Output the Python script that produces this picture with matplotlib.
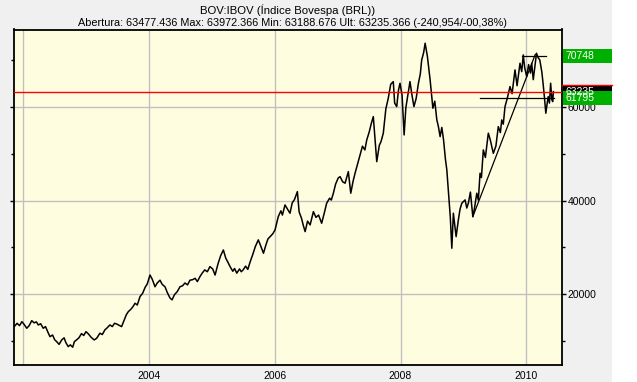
import pandas as pd
import matplotlib
matplotlib.use("Agg")
import matplotlib.pyplot as plt
from matplotlib.patches import Rectangle
from matplotlib.transforms import blended_transform_factory

plt.rcParams['font.family'] = ['Liberation Sans', 'DejaVu Sans']

# Ibovespa closes (roughly two points per month)
dates = [
    "2001-11-12", "2001-11-26", "2001-12-10", "2001-12-24", "2002-01-07", "2002-01-21",
    "2002-02-04", "2002-02-19", "2002-03-05", "2002-03-18", "2002-03-29", "2002-04-12",
    "2002-04-27", "2002-05-10", "2002-05-24", "2002-06-05", "2002-06-20", "2002-07-02",
    "2002-07-14", "2002-07-28", "2002-08-12", "2002-08-26", "2002-09-05", "2002-09-19",
    "2002-10-01", "2002-10-15", "2002-10-25", "2002-11-06", "2002-11-20", "2002-12-05",
    "2002-12-18", "2002-12-31", "2003-01-15", "2003-01-30", "2003-02-17", "2003-03-03",
    "2003-03-22", "2003-04-05", "2003-04-20", "2003-05-05", "2003-05-19", "2003-06-02",
    "2003-06-15", "2003-06-27", "2003-07-10", "2003-07-26", "2003-08-10", "2003-08-22",
    "2003-09-03", "2003-09-18", "2003-10-01", "2003-10-12", "2003-10-25", "2003-11-10",
    "2003-11-25", "2003-12-10", "2003-12-22", "2004-01-07", "2004-01-20", "2004-02-05",
    "2004-02-18", "2004-03-05", "2004-03-18", "2004-04-03", "2004-04-16", "2004-05-02",
    "2004-05-14", "2004-05-28", "2004-06-14", "2004-06-29", "2004-07-14", "2004-07-28",
    "2004-08-12", "2004-08-26", "2004-09-10", "2004-09-25", "2004-10-08", "2004-10-23",
    "2004-11-05", "2004-11-20", "2004-12-05", "2004-12-20", "2005-01-05", "2005-01-19",
    "2005-02-05", "2005-02-20", "2005-03-08", "2005-03-22", "2005-04-04", "2005-04-16",
    "2005-05-02", "2005-05-12", "2005-05-25", "2005-06-10", "2005-06-20", "2005-07-01",
    "2005-07-15", "2005-07-28", "2005-08-11", "2005-08-25", "2005-09-10", "2005-09-27",
    "2005-10-10", "2005-10-27", "2005-11-10", "2005-11-22", "2005-12-05", "2005-12-20",
    "2006-01-02", "2006-01-21", "2006-02-05", "2006-02-14", "2006-03-01", "2006-03-15",
    "2006-03-30", "2006-04-12", "2006-04-25", "2006-05-12", "2006-05-22", "2006-06-05",
    "2006-06-16", "2006-06-26", "2006-07-10", "2006-07-25", "2006-08-13", "2006-08-28",
    "2006-09-12", "2006-09-30", "2006-10-15", "2006-10-29", "2006-11-15", "2006-11-25",
    "2006-12-07", "2006-12-20", "2007-01-04", "2007-01-15", "2007-01-30", "2007-02-13",
    "2007-03-04", "2007-03-18", "2007-04-01", "2007-04-12", "2007-04-25", "2007-05-11",
    "2007-05-25", "2007-06-08", "2007-06-19", "2007-07-03", "2007-07-15", "2007-07-27",
    "2007-08-06", "2007-08-16", "2007-08-31", "2007-09-10", "2007-09-23", "2007-10-08",
    "2007-10-22", "2007-11-05", "2007-11-20", "2007-11-28", "2007-12-10", "2007-12-20",
    "2007-12-29", "2008-01-10", "2008-01-22", "2008-02-01", "2008-02-12", "2008-02-25",
    "2008-03-08", "2008-03-19", "2008-04-01", "2008-04-14", "2008-04-25", "2008-05-03",
    "2008-05-14", "2008-05-23", "2008-06-05", "2008-06-21", "2008-07-07", "2008-07-18",
    "2008-07-30", "2008-08-08", "2008-08-18", "2008-08-28", "2008-09-07", "2008-09-18",
    "2008-09-26", "2008-10-06", "2008-10-16", "2008-10-25", "2008-11-03", "2008-11-12",
    "2008-11-19", "2008-12-02", "2008-12-12", "2008-12-22", "2009-01-10", "2009-01-20",
    "2009-01-29", "2009-02-10", "2009-02-24", "2009-03-05", "2009-03-19", "2009-03-28",
    "2009-04-07", "2009-04-15", "2009-04-26", "2009-05-08", "2009-05-25", "2009-06-05",
    "2009-06-23", "2009-07-08", "2009-07-22", "2009-08-03", "2009-08-11", "2009-08-20",
    "2009-08-30", "2009-09-12", "2009-09-28", "2009-10-10", "2009-10-27", "2009-11-08",
    "2009-11-25", "2009-12-05", "2009-12-14", "2009-12-22", "2010-01-03", "2010-01-14",
    "2010-01-25", "2010-02-01", "2010-02-10", "2010-02-20", "2010-03-01", "2010-03-10",
    "2010-03-20", "2010-04-01", "2010-04-08", "2010-04-16", "2010-04-24", "2010-05-01",
    "2010-05-08", "2010-05-15", "2010-05-22", "2010-05-29", "2010-06-03", "2010-06-07",
]
ibov = [
    13200, 13800, 13300, 14150, 13500, 12740,
    13300, 14360, 13900, 14100, 13450, 13700,
    12740, 13100, 11900, 10950, 11300, 10300,
    9880, 9300, 10250, 10700, 9700, 8820,
    9200, 8700, 9900, 10250, 10700, 11600,
    11200, 12020, 11500, 10800, 10250, 10600,
    11680, 11400, 12400, 12900, 13450, 13100,
    13800, 13660, 13400, 13090, 14500, 15600,
    16290, 16800, 17400, 18080, 17700, 19500,
    20200, 21500, 22200, 24100, 23200, 21600,
    22400, 23000, 22100, 21600, 20400, 19200,
    18800, 19900, 20600, 21600, 21800, 22400,
    22000, 23000, 23100, 23400, 22700, 23760,
    24500, 25200, 24800, 25900, 25400, 24100,
    26500, 28200, 29450, 27700, 26800, 25900,
    24900, 25500, 24500, 25400, 24800, 25200,
    26000, 25300, 26950, 28400, 30200, 31600,
    30400, 28750, 30500, 31800, 32300, 32900,
    33700, 36560, 37800, 36900, 39060, 38200,
    37290, 39500, 40200, 41900, 37600, 36200,
    34600, 33370, 35600, 34800, 37630, 36400,
    36900, 35150, 37300, 39420, 40500, 40100,
    41560, 43500, 44800, 45100, 44000, 43700,
    46170, 41560, 44200, 45830, 47600, 49730,
    51600, 50800, 52940, 54600, 56400, 57910,
    53200, 48300, 51800, 52600, 54370, 59600,
    61840, 64800, 65380, 60800, 60050, 63500,
    65030, 62500, 54000, 59800, 62300, 65380,
    62400, 60050, 61800, 65030, 67000, 70000,
    71500, 73570, 70800, 65740, 59700, 61200,
    57200, 55800, 53640, 55600, 52940, 48800,
    46530, 41560, 36560, 29820, 37290, 34500,
    32300, 35860, 38200, 39420, 40130, 38400,
    39420, 41800, 36560, 38200, 41560, 40100,
    45830, 44900, 50800, 49200, 54370, 53000,
    50080, 51600, 55770, 54500, 57200, 56300,
    60050, 61800, 64320, 62800, 67880, 64500,
    69300, 67500, 71080, 68400, 66450, 69000,
    67200, 69300, 65800, 68800, 71430, 70500,
    70010, 67400, 65030, 62000, 58630, 60500,
    62180, 60800, 65030, 61500, 61110, 63235,
]

# drawn study lines
trend_dates = ["2009-02-24", "2010-02-22"]
trend_values = [36560, 71200]
high_dates = ["2009-12-05", "2010-04-24"]
high_level = 70748
low_dates = ["2009-04-07", "2010-06-12"]
low_level = 61795
last_close = 63235

title = "BOV:IBOV (Índice Bovespa (BRL))"
subtitle = ("Abertura: 63477.436 Max: 63972.366 Min: 63188.676 "
            "Ult: 63235.366 (-240,954/-00,38%)")

W, H = 637, 382
fig = plt.figure(figsize=(W / 100, H / 100), dpi=100, facecolor="white")
fig.add_artist(Rectangle((0, 0), 612 / W, 1, transform=fig.transFigure,
                         facecolor="#f0f0f0", edgecolor="none", zorder=-10))

ax = fig.add_axes([14 / W, 17 / H, 548 / W, 335.5 / H])
ax.set_facecolor("#fffde0")
for s in ax.spines.values():
    s.set_linewidth(1.3)
    s.set_color("black")

x = pd.to_datetime(dates)
ax.plot(x, ibov, color="black", lw=1.1, zorder=3)

# study lines
ax.plot(pd.to_datetime(trend_dates), trend_values, color="black", lw=0.9, zorder=3)
ax.plot(pd.to_datetime(high_dates), [high_level] * 2, color="black", lw=0.9, zorder=3)
ax.plot(pd.to_datetime(low_dates), [low_level] * 2, color="black", lw=0.9, zorder=3)
ax.axhline(last_close, color="red", lw=1, zorder=3)

ax.set_xlim(pd.Timestamp("2001-11-08"), pd.Timestamp("2010-07-27"))
ax.set_ylim(4900, 76500)

years = [2002, 2004, 2006, 2008, 2010]
ax.set_xticks([pd.Timestamp(f"{y}-01-01") for y in years])
ax.set_xticklabels(["" if y == 2002 else str(y) for y in years])
ax.tick_params(axis="x", length=0, labelsize=7.5, pad=4)

ax.set_yticks([20000, 40000, 60000])
ax.set_yticks([10000, 30000, 50000, 70000], minor=True)
ax.yaxis.tick_right()
ax.tick_params(axis="y", which="major", direction="out", length=3, width=1,
               labelsize=7.5, pad=1, left=True)
ax.tick_params(axis="y", which="minor", direction="out", length=2, width=1, left=True)
ax.grid(True, which="major", color="#c0c0c0", lw=1)
ax.set_axisbelow(True)

# price boxes on the right scale (the last-close box sits under the 61795 one)
trans = blended_transform_factory(fig.transFigure, ax.transData)
box_h = 14 * (76500 - 4900) / 335.5
boxes = [(last_close, "black"), (high_level, "#00b000"), (low_level, "#00b000")]
for val, col in boxes:
    ax.add_patch(Rectangle((563 / W, val - box_h / 2), 49 / W, box_h, transform=trans,
                           facecolor=col, edgecolor="none", clip_on=False, zorder=5))
    ax.text(565 / W, val, f"{val}", transform=trans, color="white", fontsize=7.5,
            va="center", ha="left", clip_on=False, zorder=6)
ax.plot([562 / W, 612 / W], [last_close + box_h / 2] * 2, transform=trans,
        color="red", lw=1, clip_on=False, zorder=6)

fig.text(288 / W, 1 - 10 / H, title, ha="center", va="center", fontsize=8.2)
fig.text(292 / W, 1 - 23 / H, subtitle, ha="center", va="center", fontsize=7.8)

fig.savefig("out.png", dpi=100)
